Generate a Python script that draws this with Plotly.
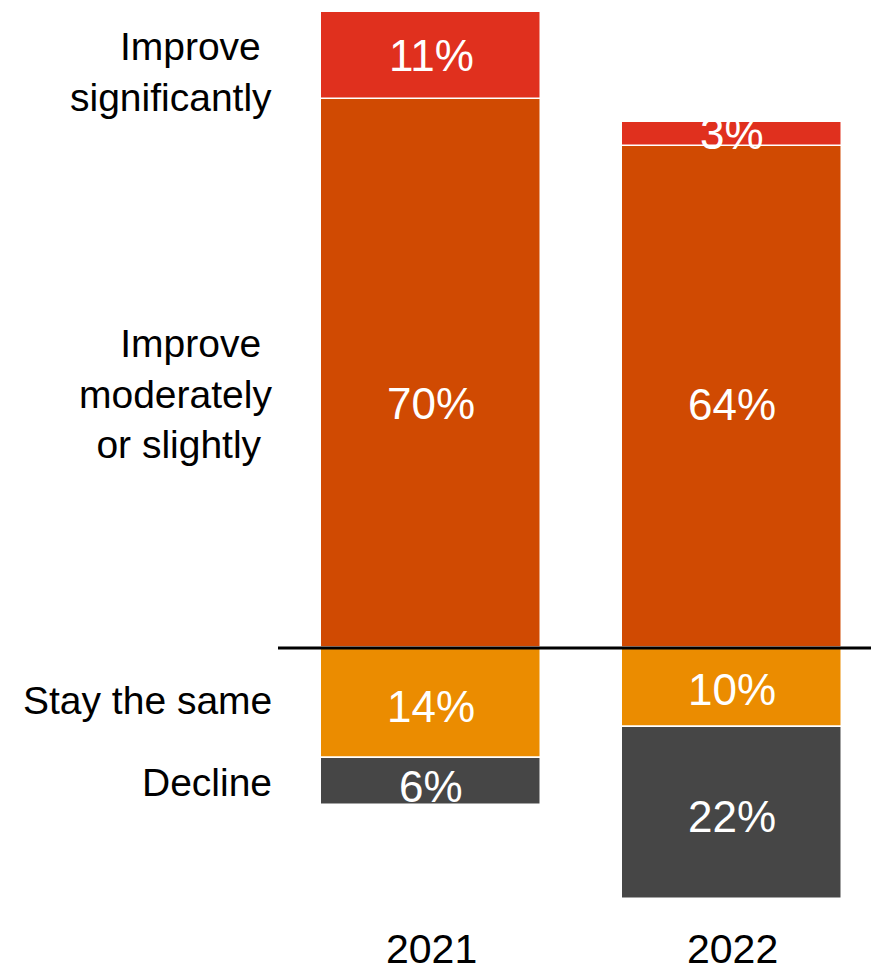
import plotly.graph_objects as go

years = ["2021", "2022"]
improve_sig = [11, 3]
improve_mod = [70, 64]
stay_same = [14, 10]
decline = [6, 22]

series_names = ["Improve significantly", "Improve moderately or slightly", "Stay the same", "Decline"]
left_labels = ["Improve\u00a0<br>significantly", "Improve\u00a0<br>moderately<br>or slightly\u00a0", "Stay the same", "Decline"]
colors = {"sig": "#E0301E", "mod": "#D04A02", "same": "#EB8C00", "dec": "#464646"}

FONT = "Arial, Liberation Sans, sans-serif"
W, H = 871, 974
PXPER = 7.85
ZERO_PX = 648
y_top = ZERO_PX / PXPER
y_bot = -(H - ZERO_PX) / PXPER
x_lo = -431 / 301.0
x_hi = x_lo + W / 301.0

xs = [0, 1]
fig = go.Figure()
bw = 220 / 301.0
line = dict(color="white", width=1.5)
fig.add_trace(go.Bar(x=xs, y=improve_mod, marker=dict(color=colors["mod"], line=line), width=bw, name=series_names[1]))
fig.add_trace(go.Bar(x=xs, y=improve_sig, marker=dict(color=colors["sig"], line=line), width=bw, name=series_names[0]))
fig.add_trace(go.Bar(x=xs, y=[-v for v in stay_same], marker=dict(color=colors["same"], line=line), width=bw, name=series_names[2]))
fig.add_trace(go.Bar(x=xs, y=[-v for v in decline], marker=dict(color=colors["dec"], line=line), width=bw, name=series_names[3]))

annotations = []
# value labels at segment centres
value_shift = {"mod": [-30, -8], "sig": [0, 0], "same": [-4, -2], "dec": [-5, -4]}
for i in range(2):
    segs = [
        ("mod", improve_mod[i] / 2, improve_mod[i]),
        ("sig", improve_mod[i] + improve_sig[i] / 2, improve_sig[i]),
        ("same", -stay_same[i] / 2, stay_same[i]),
        ("dec", -stay_same[i] - decline[i] / 2, decline[i]),
    ]
    for key, yc, v in segs:
        annotations.append(dict(x=xs[i], y=yc, xref="x", yref="y", text=f"{v}%", showarrow=False,
                                font=dict(family=FONT, size=44, color="white"),
                                xanchor="center", yanchor="middle", yshift=value_shift[key][i]))

# left category labels (aligned to 2021 segments)
left_y = [improve_mod[0] + improve_sig[0] / 2, improve_mod[0] / 2, -stay_same[0] / 2, -stay_same[0] - decline[0] / 2]
left_shift = [-17, -21, 2, -1]
for lab, yc, ys in zip(left_labels, left_y, left_shift):
    annotations.append(dict(x=274 / W, y=yc, xref="paper", yref="y", text=lab, showarrow=False,
                            align="right", xanchor="right", yanchor="middle", yshift=ys,
                            font=dict(family=FONT, size=39, color="black")))

# year labels
for i, yr in enumerate(years):
    annotations.append(dict(x=xs[i], y=0, xref="x", yref="paper", text=yr, showarrow=False,
                            xanchor="center", yanchor="bottom", yshift=0,
                            font=dict(family=FONT, size=41, color="black")))

fig.update_layout(
    width=W, height=H,
    margin=dict(l=0, r=0, t=0, b=0),
    barmode="relative",
    bargap=0,
    showlegend=False,
    plot_bgcolor="white", paper_bgcolor="white",
    xaxis=dict(range=[x_lo, x_hi], visible=False, fixedrange=True),
    yaxis=dict(range=[y_bot, y_top], visible=False, fixedrange=True),
    annotations=annotations,
    shapes=[dict(type="line", xref="paper", yref="y", x0=278 / W, x1=1, y0=0, y1=0,
                 line=dict(color="black", width=3))],
)

fig.write_html("out.html")
